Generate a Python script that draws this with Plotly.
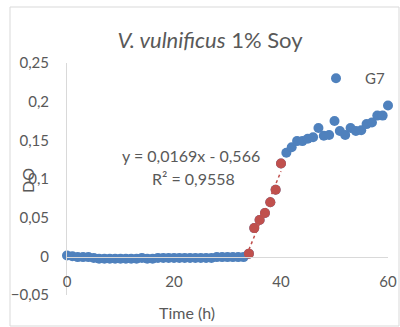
import plotly.graph_objects as go

# ---- data ----
time_lag = list(range(0, 34))
od_lag = [0.001, 0.0, -0.001, -0.001, -0.001, -0.002, -0.003, -0.003, -0.003, -0.003,
          -0.003, -0.003, -0.003, -0.003, -0.002, -0.003, -0.003, -0.002, -0.002, -0.002,
          -0.002, -0.002, -0.002, -0.002, -0.002, -0.002, -0.002, -0.002, -0.001, -0.001,
          -0.001, -0.001, -0.001, -0.001]
time_exp = [34, 35, 36, 37, 38, 39, 40]
od_exp = [0.0035, 0.0365, 0.047, 0.056, 0.070, 0.086, 0.120]
time_stat = list(range(41, 61))
od_stat = [0.134, 0.141, 0.149, 0.149, 0.152, 0.154, 0.166, 0.156, 0.157, 0.175,
           0.162, 0.157, 0.166, 0.162, 0.163, 0.171, 0.173, 0.182, 0.182, 0.195]
trend_slope = 0.0169
trend_intercept = -0.566
x_ticks = [0, 20, 40, 60]
y_ticks = [-0.05, 0, 0.05, 0.1, 0.15, 0.2, 0.25]

BLUE = "#4F81BD"
RED = "#C0504D"
GREY = "#595959"
FONT = "Lato"

# pixel geometry of the plot area
W, H = 400, 327
L, R, T, B = 67, 388, 63, 295
def px(xp):
    return (xp - L) / (R - L)
def py(yp):
    return (B - yp) / (B - T)

fig = go.Figure()
fig.add_trace(go.Scatter(x=time_lag + time_exp + time_stat, y=od_lag + od_exp + od_stat,
                         mode="markers", name="G7", cliponaxis=False,
                         marker=dict(color=BLUE, size=10)))
tx = [time_exp[0], time_exp[-1]]
fig.add_trace(go.Scatter(x=tx, y=[trend_slope * v + trend_intercept for v in tx],
                         mode="lines", showlegend=False,
                         line=dict(color=RED, width=1.5, dash="dot")))
fig.add_trace(go.Scatter(x=time_exp, y=od_exp, mode="markers", showlegend=False,
                         cliponaxis=False, marker=dict(color=RED, size=10)))

def ann(text, xp, yp, size=15, angle=0):
    return dict(text=text, x=px(xp), y=py(yp), xref="paper", yref="paper",
                xanchor="center", yanchor="middle", showarrow=False,
                textangle=angle, font=dict(size=size, color=GREY))

fig.update_layout(
    width=W, height=H,
    margin=dict(l=L, r=W - R, t=T, b=H - B, pad=0, autoexpand=False),
    paper_bgcolor="white", plot_bgcolor="white",
    separators=",.",
    font=dict(family=FONT, color=GREY, size=15),
    title=dict(text="<i>V. vulnificus</i> 1% Soy", x=210 / W, xanchor="center",
               y=1 - 40 / H, yanchor="middle", font=dict(size=22, color=GREY)),
    showlegend=True,
    legend=dict(x=px(307), y=py(62), xanchor="left", yanchor="top", itemwidth=48,
                bgcolor="rgba(0,0,0,0)", font=dict(size=15, color=GREY)),
    xaxis=dict(range=[0, 60], tickvals=x_ticks, showgrid=False, zeroline=False,
               showline=True, linecolor="#d9d9d9", linewidth=1,
               anchor="free", position=py(256.5), ticks="", ticklabelstandoff=11,
               tickfont=dict(size=15, color=GREY)),
    yaxis=dict(range=[-0.05, 0.25], tickvals=y_ticks, tickformat="~g", showgrid=False,
               zeroline=False, showline=True, linecolor="#d9d9d9", linewidth=1,
               ticks="", ticklabelstandoff=14, tickfont=dict(size=15, color=GREY)),
    shapes=[dict(type="rect", xref="paper", yref="paper",
                 x0=px(10), x1=px(399), y0=py(326), y1=py(7),
                 line=dict(color="#d9d9d9", width=1), fillcolor="rgba(0,0,0,0)",
                 layer="below")],
    annotations=[
        ann("Time (h)", 187, 312, 16),
        ann("DO", 27, 181, 16, -90),
        ann("y = 0,0169x - 0,566", 191, 155, 16),
        ann("R² = 0,9558", 193, 178, 16),
    ],
)

fig.write_html("out.html")
